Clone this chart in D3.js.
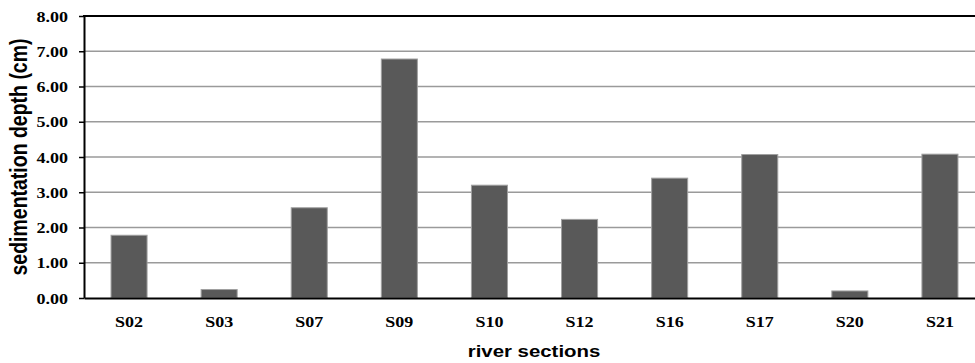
<!DOCTYPE html>
<html>
<head>
<meta charset="utf-8">
<script src="https://cdn.jsdelivr.net/npm/d3@7"></script>
<style>
  html, body { margin: 0; padding: 0; background: #fff; }
  svg { display: block; overflow: hidden; }
</style>
</head>
<body>
<svg id="chart" width="975" height="363"></svg>
<script>
// Sedimentation depth per river section
const sections = ["S02", "S03", "S07", "S09", "S10", "S12", "S16", "S17", "S20", "S21"];
const depths = [1.78, 0.24, 2.56, 6.78, 3.20, 2.23, 3.40, 4.07, 0.20, 4.08];
const yTicks = [0, 1, 2, 3, 4, 5, 6, 7, 8];
const yTitle = "sedimentation depth (cm)";
const xTitle = "river sections";

const W = 975, H = 363;
const plot = { left: 84, top: 16, bottom: 298, right: 985 };
const stretch = 1.2; // glyphs are drawn a little wider than tall

const svg = d3.select("#chart");

const x = d3.scaleBand()
  .domain(sections)
  .range([plot.left, plot.right])
  .paddingInner(0.6)
  .paddingOuter(0.3);

const y = d3.scaleLinear()
  .domain([0, 8])
  .range([plot.bottom, plot.top]);

// horizontal gridlines
svg.append("g")
  .selectAll("line")
  .data(yTicks.filter(d => d > 0 && d < 8))
  .join("line")
  .attr("x1", plot.left)
  .attr("x2", W)
  .attr("y1", d => y(d))
  .attr("y2", d => y(d))
  .attr("stroke", "#9a9a9a")
  .attr("stroke-width", 1.6);

// bars
svg.append("g")
  .selectAll("rect")
  .data(sections.map((s, i) => ({ s, v: depths[i] })))
  .join("rect")
  .attr("x", d => x(d.s))
  .attr("width", x.bandwidth())
  .attr("y", d => y(d.v))
  .attr("height", d => y(0) - y(d.v))
  .attr("fill", "#595959")
  .attr("stroke", "#a0a0a0")
  .attr("stroke-width", 1);

// top border of the plot area
svg.append("line")
  .attr("x1", plot.left - 1)
  .attr("x2", W)
  .attr("y1", y(8))
  .attr("y2", y(8))
  .attr("stroke", "#000")
  .attr("stroke-width", 2);

// y axis
const yAxis = svg.append("g")
  .attr("transform", `translate(${plot.left},0)`)
  .call(d3.axisLeft(y).tickValues(yTicks).tickSize(5).tickSizeOuter(0).tickFormat(d3.format(".2f")));
yAxis.select(".domain").attr("stroke", "#000").attr("stroke-width", 2);
yAxis.selectAll(".tick line").attr("stroke", "#000").attr("stroke-width", 1.5);
yAxis.selectAll(".tick text")
  .attr("x", null)
  .attr("dy", null)
  .attr("transform", `translate(-16,5) scale(${stretch},1)`)
  .attr("text-anchor", "end")
  .attr("font-family", "'Liberation Serif', 'Times New Roman', serif")
  .attr("font-weight", "bold")
  .attr("font-size", 15)
  .attr("fill", "#000");

// x axis
const xAxis = svg.append("g")
  .attr("transform", `translate(0,${plot.bottom})`)
  .call(d3.axisBottom(x).tickSize(0).tickSizeOuter(0));
xAxis.select(".domain").attr("stroke", "#000").attr("stroke-width", 2);
xAxis.selectAll(".tick text")
  .attr("y", null)
  .attr("dy", null)
  .attr("transform", `translate(0,29) scale(${stretch},1)`)
  .attr("font-family", "'Liberation Serif', 'Times New Roman', serif")
  .attr("font-weight", "bold")
  .attr("font-size", 15)
  .attr("fill", "#000");

// axis titles
svg.append("text")
  .attr("transform", `translate(27,157) scale(${stretch},1) rotate(-90)`)
  .attr("text-anchor", "middle")
  .attr("font-family", "'Liberation Sans', Arial, sans-serif")
  .attr("font-weight", "bold")
  .attr("font-size", 19.5)
  .attr("fill", "#000")
  .text(yTitle);

svg.append("text")
  .attr("transform", `translate(534,357) scale(${stretch},1)`)
  .attr("text-anchor", "middle")
  .attr("font-family", "'Liberation Sans', Arial, sans-serif")
  .attr("font-weight", "bold")
  .attr("font-size", 17)
  .attr("fill", "#000")
  .text(xTitle);
</script>
</body>
</html>
